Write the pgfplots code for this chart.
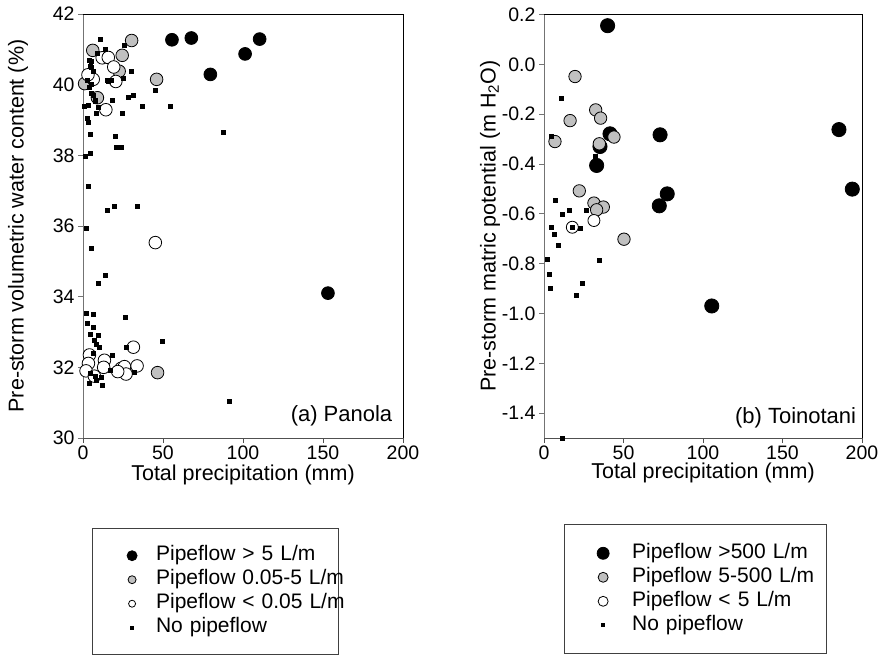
\documentclass[border=0pt]{standalone}
\usepackage{fontspec}
\setmainfont{Liberation Sans}
\usepackage{pgfplots}
\pgfplotsset{compat=1.18}

\definecolor{midgray}{RGB}{192,192,192}
\definecolor{yaxisgray}{RGB}{115,115,115}
\definecolor{xaxisgray}{RGB}{80,80,80}

\pgfplotsset{
  panel/.style={
    scale only axis,
    axis x line*=bottom, axis y line*=left,
    x axis line style={xaxisgray, line width=0.9pt, -},
    y axis line style={yaxisgray, line width=0.9pt, -},
    tick align=outside, major tick length=5pt,
    xtick style={xaxisgray, line width=0.8pt},
    ytick style={yaxisgray, line width=0.8pt},
    xmin=0, xmax=200, xtick={0,50,100,150,200},
    /pgf/number format/assume math mode=true,
    tick label style={font=\fontsize{19.5}{23}\selectfont},
    xticklabel style={yshift=1pt},
    label style={font=\fontsize{21.5}{25}\selectfont},
    clip=false,
    legend cell align=left,
  },
  limgL/.style={legend image code/.code={\path[draw=none] (0pt,0pt) (63.4pt,0pt); \draw[##1,mark size=#1] plot coordinates {(39.4pt,0pt)};}},
  limgR/.style={legend image code/.code={\path[draw=none] (0pt,0pt) (67.7pt,0pt); \draw[##1,mark size=#1] plot coordinates {(38.7pt,0pt)};}},
  big/.style={only marks, mark=*, mark size=#1, mark options={draw=black, fill=black, line width=0.8pt}},
  mid/.style={only marks, mark=*, mark size=#1, mark options={draw=black, fill=midgray, line width=0.8pt}},
  low/.style={only marks, mark=*, mark size=#1, mark options={draw=black, fill=white, line width=0.8pt}},
  nop/.style={only marks, mark=square*, mark size=2pt, mark options={draw=black, fill=black}},
}

\begin{document}
\begin{tikzpicture}[font=\fontsize{20}{24}\selectfont]
\useasboundingbox (0,0) rectangle (882pt,655pt);

% (a) Panola
\begin{axis}[panel,
  at={(83pt,217pt)}, anchor=south west,
  width=320pt, height=424pt,
  ymin=30, ymax=42, ytick={30,32,...,42},
  xlabel={Total precipitation (mm)},
  ylabel={Pre-storm volumetric water content (\%)},
  x label style={at={(axis description cs:0.5,-0.088)}, anchor=center},
  y label style={at={(axis description cs:-0.203,0.5)}, anchor=center},
  legend style={at={(0.029,-0.213)}, anchor=north west, draw=black!75,
    line width=0.8pt, inner xsep=0pt, inner ysep=15pt, row sep=0pt, column sep=0pt,
    font=\fontsize{21}{25}\selectfont,
    nodes={inner xsep=0pt, inner ysep=2pt, text height=14.8pt, text depth=5.2pt,
      text width=182pt, align=left}},
]
\addplot[big=6.4pt, limgL=5pt] coordinates {
  (55.6,41.27) (67.7,41.32) (110.4,41.29) (101.3,40.87) (79.6,40.29) (153.1,34.1)
};
\addlegendentry{\rlap{Pipeflow > 5 L/m}}
\addplot[mid=6.3pt, limgL=4pt] coordinates {
  (30.4,41.25) (6.1,40.97) (24.5,40.83) (46,40.15) (22.6,40.38) (1,40.03)
  (9,39.63) (46.6,31.85)
};
\addlegendentry{\rlap{Pipeflow 0.05-5 L/m}}
\addplot[low=6.3pt, limgL=3.5pt] coordinates {
  (12,40.76) (15.8,40.77) (19.2,40.5) (20.5,40.09) (6.4,40.15) (3.1,40.28)
  (14.3,39.29) (45.2,35.53) (31.5,32.57) (4,32.35) (3.4,32.11) (1.9,31.9)
  (13.4,32.2) (12.9,32.0) (23.8,31.97) (25.9,32.02) (26.9,31.81) (21.7,31.88)
  (33.8,32.04) (7.1,31.75)
};
\addlegendentry{\rlap{Pipeflow < 0.05 L/m}}
\addplot[nop, limgL=1.6pt] coordinates {
  (10.8,41.29) (26,41.11) (8.8,40.9) (13.6,41.0) (4,40.7) (5.2,40.66) (5,40.49)
  (4.2,40.52) (6.3,40.37) (2.5,40.14) (5.2,40.0) (15,40.14) (17.7,40.14)
  (25,40.17) (30.2,40.37) (15.8,40.1) (3.6,39.92) (5.2,39.76) (6.1,39.71)
  (7.9,39.57) (7.5,39.52) (18.1,39.57) (45.4,39.83) (28.1,39.64) (31.2,39.69)
  (36.9,39.4) (54.2,39.38) (1,39.4) (3.1,39.42) (9.4,39.37) (8.4,39.2)
  (24.4,39.18) (2.5,39.05) (3.1,38.94) (4.6,38.6) (20.2,38.53) (87.5,38.66)
  (20.9,38.23) (23.9,38.23) (4.2,38.06) (1.1,37.97)
  (3.1,37.12) (15.2,36.44) (19.4,36.55) (34,36.57) (2.1,35.95) (5.4,35.37)
  (13.8,34.6) (9.8,34.39)
  (2.1,33.53) (6.3,33.5) (26.1,33.41) (2.5,33.25) (6.3,33.13) (4.6,32.94)
  (9.4,32.91) (7.1,32.77) (8.4,32.66) (10,32.56) (27.1,32.56) (49.4,32.75)
  (18.4,32.34) (6.1,32.4) (16.9,31.92) (32.1,31.86) (4.4,31.83) (7.5,31.75)
  (11.3,31.72) (4,31.56) (8.1,31.64) (12.3,31.5) (91.3,31.05)
};
\addlegendentry{\rlap{No pipeflow}}
\draw[black, line width=0.9pt] (rel axis cs:0,1) -- (rel axis cs:1,1) -- (rel axis cs:1,0);
\node[anchor=east, font=\fontsize{22}{26}\selectfont] at (rel axis cs:0.9775,0.052) {(a) Panola};
\end{axis}

% (b) Toinotani
\begin{axis}[panel,
  at={(544pt,217pt)}, anchor=south west,
  width=318pt, height=423.5pt,
  ymin=-1.5, ymax=0.2, ytick={-1.4,-1.2,...,0.2},
  yticklabel style={/pgf/number format/fixed, /pgf/number format/precision=1,
    /pgf/number format/fixed zerofill},
  xlabel={Total precipitation (mm)},
  ylabel={Pre-storm matric potential (m H\textsubscript{2}O)},
  x label style={at={(axis description cs:0.5,-0.083)}, anchor=center},
  y label style={at={(axis description cs:-0.17,0.5)}, anchor=center},
  legend style={at={(0.063,-0.204)}, anchor=north west, draw=black!75,
    line width=0.8pt, inner xsep=0pt, inner ysep=16.5pt, row sep=0pt, column sep=0pt,
    font=\fontsize{21}{25}\selectfont,
    nodes={inner xsep=0pt, inner ysep=2pt, text height=14.8pt, text depth=5.2pt,
      text width=194pt, align=left}},
]
\addplot[big=7.1pt, limgR=6pt] coordinates {
  (40,0.155) (41.5,-0.279) (35.2,-0.33) (33.1,-0.406) (77.5,-0.52) (72.5,-0.568)
  (193.9,-0.501) (105.5,-0.97) (185.5,-0.262) (73,-0.283)
};
\addlegendentry{\rlap{Pipeflow >500 L/m}}
\addplot[mid=6.2pt, limgR=5pt] coordinates {
  (19.5,-0.049) (32.5,-0.183) (35.6,-0.216) (16.4,-0.226) (6.9,-0.31) (44,-0.292)
  (34.8,-0.319) (22.2,-0.508) (31.4,-0.557) (37.3,-0.573) (33.1,-0.584) (50.3,-0.702)
};
\addlegendentry{\rlap{Pipeflow 5-500 L/m}}
\addplot[low=6pt, limgR=5pt] coordinates {
  (31.4,-0.627) (17.8,-0.654)
};
\addlegendentry{\rlap{Pipeflow < 5 L/m}}
\addplot[nop, limgR=1.6pt] coordinates {
  (10.7,-0.136) (4.4,-0.287) (31.9,-0.370) (6.9,-0.544) (15.7,-0.584) (26.8,-0.584)
  (11.3,-0.6) (4.4,-0.654) (6.5,-0.681) (18,-0.655) (22.6,-0.659) (9,-0.725)
  (1.7,-0.782) (34.8,-0.788) (3.3,-0.843) (4,-0.898) (23.9,-0.88) (20.3,-0.926)
  (11.3,-1.5)
};
\addlegendentry{\rlap{No pipeflow}}
\draw[black, line width=0.9pt] (rel axis cs:0,1) -- (rel axis cs:1,1) -- (rel axis cs:1,0);
\node[anchor=east, font=\fontsize{22}{26}\selectfont] at (rel axis cs:0.9925,0.047) {(b) Toinotani};
\end{axis}
\end{tikzpicture}
\end{document}
